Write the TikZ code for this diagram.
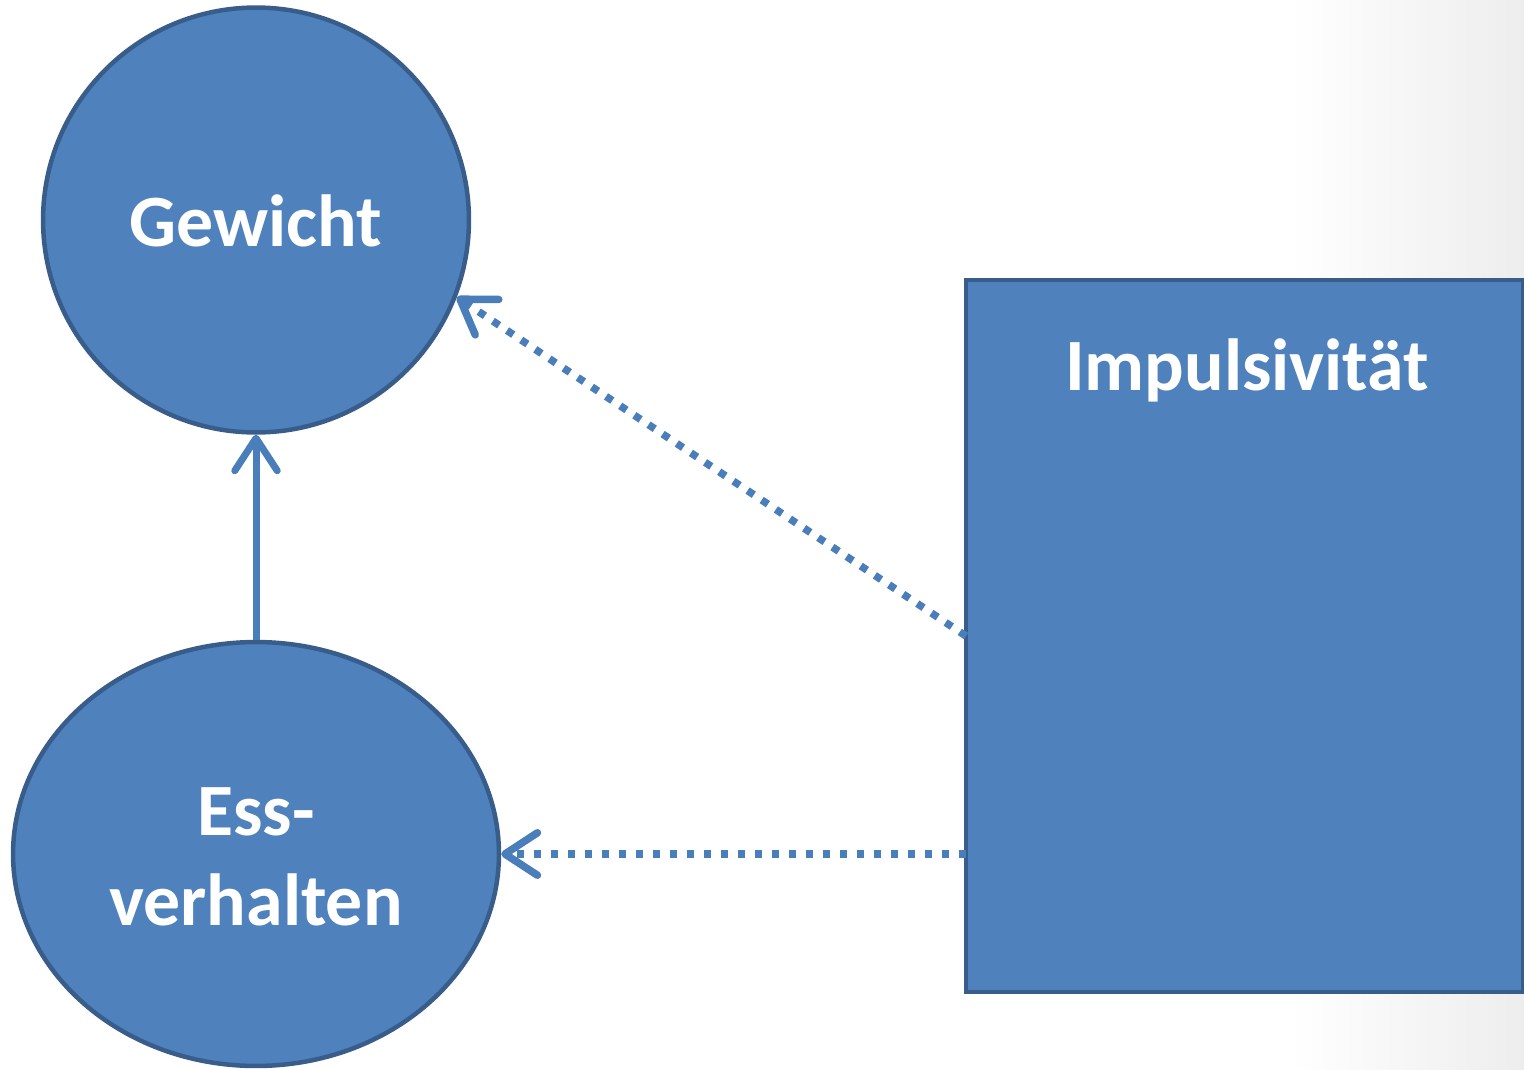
\documentclass[tikz,border=0pt]{standalone}
\usepackage{fontspec}
\setmainfont{Carlito}
\usetikzlibrary{arrows.meta,shapes.geometric}
\definecolor{boxfill}{HTML}{4F81BD}
\definecolor{boxline}{HTML}{385D8A}
\definecolor{linkcol}{HTML}{4A7EBB}
\tikzset{
  px/.style={x=0.02cm,y=-0.02cm},
  labeltext/.style={text=white, font=\bfseries\fontsize{42}{48}\selectfont, anchor=base},
  blob/.style={ellipse, fill=boxfill, draw=boxline, line width=0.09cm, inner sep=0pt},
  barb/.style={-{Straight Barb[length=0.65cm,width=0.85cm,line cap=round,line join=round]}},
  solidlink/.style={draw=linkcol, line width=0.14cm, barb},
  dotlink/.style={draw=linkcol, line width=0.15cm, dash pattern=on 0.15cm off 0.19cm, barb}
}
\begin{document}
\begin{tikzpicture}[px]
  \useasboundingbox (0,0) rectangle (1524,1069);
  % faint background fade at the right margin
  \shade[left color=white, right color=black!7] (1290,0) rectangle (1524,1069);

  % nodes
  \node[blob, minimum width=8.52cm, minimum height=8.5cm] (gew) at (256,220) {};
  \node[labeltext] (gewt) at (256,246) {Gewicht};

  \node[blob, minimum width=9.72cm, minimum height=8.48cm] (ess) at (256,854) {};
  \node[labeltext] (esst1) at (256,835) {Ess-};
  \node[labeltext] (esst2) at (256,925) {verhalten};

  \draw[fill=boxfill, draw=boxline, line width=0.09cm] (966,280) rectangle (1523,992);
  \coordinate (imp) at (966,636);
  \node[labeltext] (impt) at (1247,390) {Impulsivität};

  % connectors
  \draw[solidlink] (ess.north) -- (gew.south);
  \draw[dotlink] (imp) -- (gew.-21);
  \draw[dotlink] (imp |- ess.east) -- (ess.east);
\end{tikzpicture}
\end{document}
